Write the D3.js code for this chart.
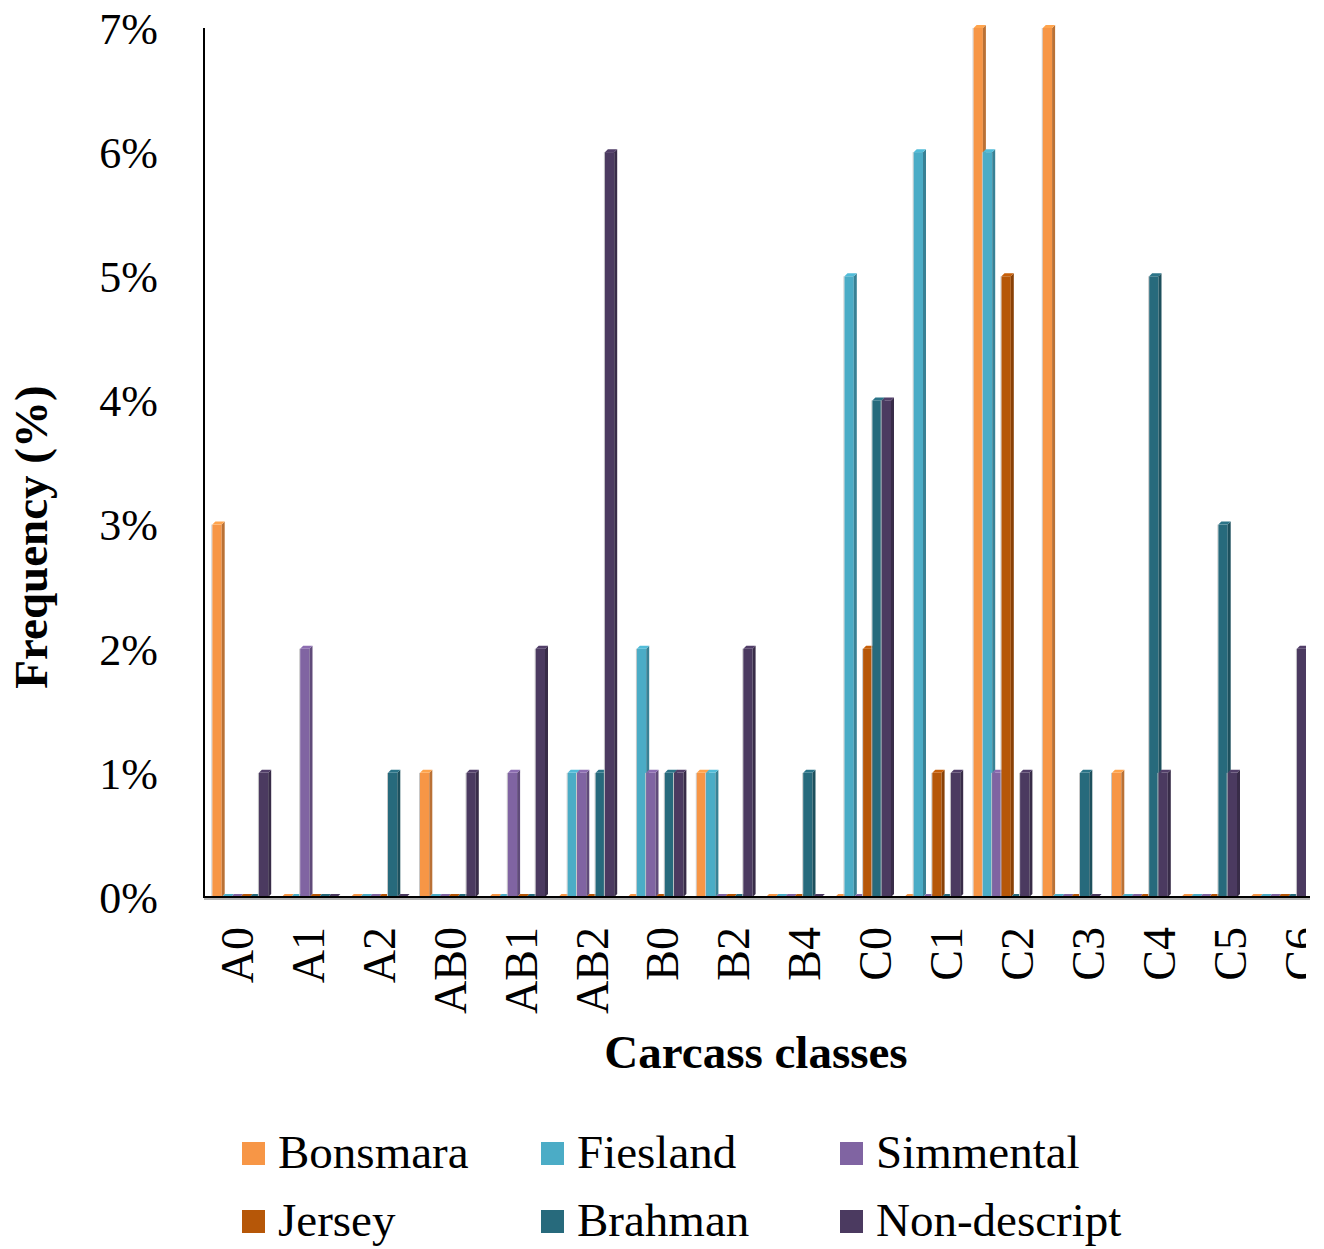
<!DOCTYPE html>
<html>
<head>
<meta charset="utf-8">
<script src="https://cdn.jsdelivr.net/npm/d3@7"></script>
<style>
  html, body { margin: 0; padding: 0; background: #fff; }
  svg { display: block; }
  text { font-family: "Liberation Serif", "Times New Roman", serif; fill: #000; }
</style>
</head>
<body>
<svg id="chart" width="1324" height="1249"></svg>
<script>
const categories = ["A0","A1","A2","AB0","AB1","AB2","B0","B2","B4","C0","C1","C2","C3","C4","C5","C6"];
const seriesNames = ["Bonsmara","Fiesland","Simmental","Jersey","Brahman","Non-descript"];
const seriesColors = ["#F79646","#4BACC6","#8064A2","#B65708","#276A7C","#4B3A60"];
const bonsmara    = [3,0,0,1,0,0,0,1,0,0,0,7,7,1,0,0];
const fiesland    = [0,0,0,0,0,1,2,1,0,5,6,6,0,0,0,0];
const simmental   = [0,2,0,0,1,1,1,0,0,0,0,1,0,0,0,0];
const jersey      = [0,0,0,0,0,0,0,0,0,2,1,5,0,0,0,0];
const brahman     = [0,0,1,0,0,1,1,0,1,4,0,0,1,5,3,0];
const nondescript = [1,0,0,1,2,6,1,2,0,4,1,1,0,1,1,2];
const seriesValues = [bonsmara, fiesland, simmental, jersey, brahman, nondescript];
const yTicks = [0,1,2,3,4,5,6,7];

const svg = d3.select("#chart");
const axisX = 204, baseY = 897, topY = 28, rightX = 1310;
const D = 3; // 3D depth

const y = d3.scaleLinear().domain([0,7]).range([baseY, topY]);
const x0 = d3.scaleBand().domain(categories).range([206.4, 206.4 + 16*69.2]).paddingInner(0).paddingOuter(0);
const x1 = d3.scaleBand().domain(seriesNames).range([6, 6 + 6*9.3]);
const xLabel = d3.scalePoint().domain(categories).range([238, 238 + 15*70.9]);

const defs = svg.append("defs");
defs.append("clipPath").attr("id","clipR").append("rect").attr("x",0).attr("y",0).attr("width",1306).attr("height",1249);

// Bars
const data = [];
categories.forEach((c,i) => seriesNames.forEach((s,j) => data.push({cat:c, ser:s, v:seriesValues[j][i], color:seriesColors[j]})));

const g = svg.append("g").attr("clip-path","url(#clipR)");
const bars = g.selectAll("g.bar").data(data).join("g").attr("class","bar");
bars.each(function(d){
  const sel = d3.select(this);
  const xl = x0(d.cat) + x1(d.ser);
  const w = x1.bandwidth();
  const yt = y(d.v);
  const col = d3.color(d.color);
  const dark = col.darker(0.8).formatHex();
  const light = col.brighter(0.25).formatHex();
  if (d.v > 0) {
    sel.append("rect").attr("x", xl-1).attr("y", yt).attr("width", 1).attr("height", baseY-yt).attr("fill","#c8c8c8");
    sel.append("rect").attr("x", xl).attr("y", yt).attr("width", w).attr("height", baseY-yt).attr("fill", d.color);
    sel.append("path").attr("d", `M${xl+w},${yt}L${xl+w+D},${yt-D}L${xl+w+D},${baseY-D}L${xl+w},${baseY}Z`).attr("fill", dark);
    sel.append("path").attr("d", `M${xl},${yt}L${xl+D},${yt-D}L${xl+w+D},${yt-D}L${xl+w},${yt}Z`).attr("fill", light);
  } else {
    sel.append("path").attr("d", `M${xl},${baseY}L${xl+D},${baseY-D}L${xl+w+D},${baseY-D}L${xl+w},${baseY}Z`).attr("fill", d.color);
  }
});

// Axes lines
svg.append("line").attr("x1",axisX).attr("x2",rightX).attr("y1",baseY+2).attr("y2",baseY+2).attr("stroke","#9a9a9a").attr("stroke-width",1.5);
svg.append("line").attr("x1",axisX).attr("x2",rightX).attr("y1",baseY).attr("y2",baseY).attr("stroke","#000").attr("stroke-width",2);
svg.append("line").attr("x1",axisX).attr("x2",axisX).attr("y1",topY).attr("y2",baseY+1).attr("stroke","#000").attr("stroke-width",2);

// Y tick labels
svg.append("g").selectAll("text").data(yTicks).join("text")
  .attr("x", 158).attr("y", d => y(d)).attr("dy","0.36em")
  .attr("text-anchor","end").attr("font-size", 44)
  .text(d => d + "%");

// X category labels (the last one is cut at the right edge, as in the source)
svg.append("g").attr("clip-path","url(#clipR)").selectAll("text").data(categories).join("text")
  .attr("transform", d => `translate(${xLabel(d)+15},927) rotate(-90)`)
  .attr("text-anchor","end").attr("font-size", 46)
  .text(d => d);

// Axis titles
svg.append("text").attr("x", 756).attr("y", 1068).attr("text-anchor","middle")
  .attr("font-size", 47).attr("font-weight","bold").text("Carcass classes");
svg.append("text").attr("transform","translate(47,537) rotate(-90)").attr("text-anchor","middle")
  .attr("font-size", 47).attr("font-weight","bold").text("Frequency (%)");

// Legend
const legX = [242, 541, 840];
const legY = [1142, 1210];
const leg = svg.append("g").selectAll("g").data(seriesNames).join("g")
  .attr("transform", (d,i) => `translate(${legX[i%3]},${legY[Math.floor(i/3)]})`);
leg.append("rect").attr("width",23).attr("height",23).attr("fill",(d,i)=>seriesColors[i]);
leg.append("text").attr("x",36).attr("y",26).attr("font-size",47).text(d=>d);
</script>
</body>
</html>
